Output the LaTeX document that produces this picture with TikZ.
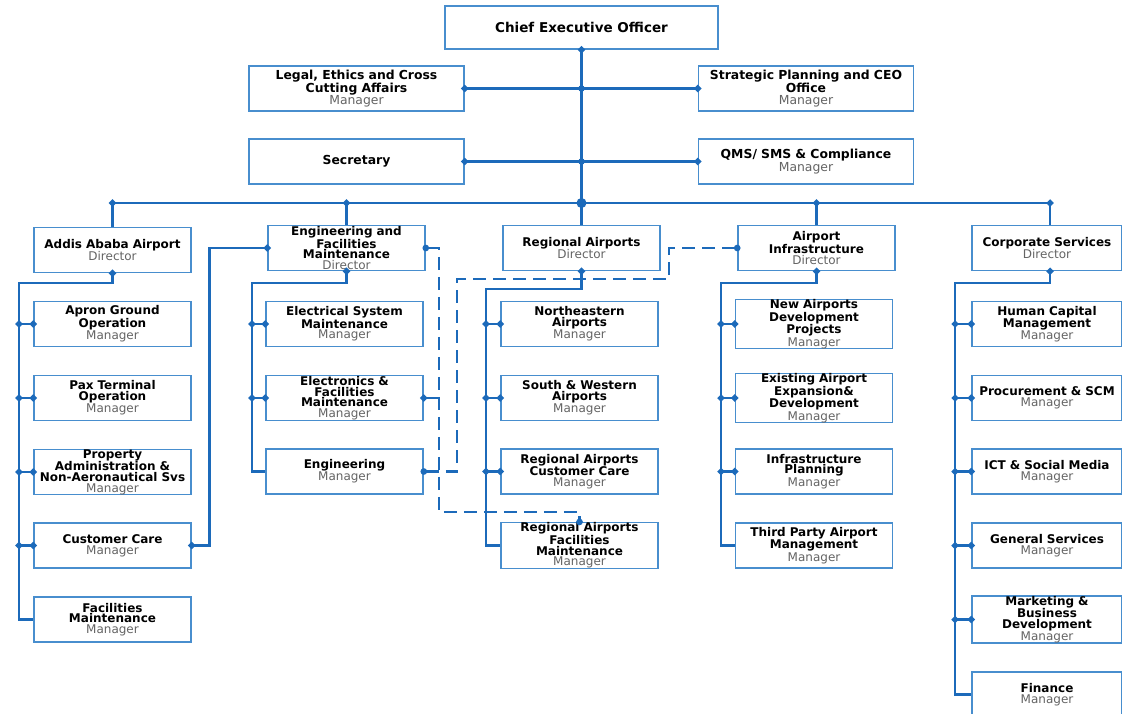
\documentclass[tikz,border=0pt]{standalone}
\usepackage{fontspec}
\setmainfont{DejaVu Sans}
\usetikzlibrary{arrows.meta}
\definecolor{lineblue}{RGB}{28,106,186}
\definecolor{boxblue}{RGB}{72,142,206}
\definecolor{rolegray}{RGB}{100,100,100}
\newcommand{\role}[1]{\\{\mdseries\color{rolegray}#1}}

\begin{document}
\begin{tikzpicture}[
    x=1pt, y=-1pt,
    jdot/.tip={Circle[length=6.5pt]},
    box/.style={draw=boxblue, line width=1.5pt, fill=white, align=center,
        inner sep=0pt, minimum height=45pt,
        font=\fontsize{12}{10.6}\selectfont\bfseries},
    unit/.style={box, minimum width=157pt, text width=155pt},
    cunit/.style={box, minimum width=150pt, text width=148pt},
    staff/.style={box, minimum width=215pt, text width=213pt},
    link/.style={lineblue, line width=2.7pt},
    branch/.style={link, {jdot}-{jdot}, shorten <=-3.2pt, shorten >=-3.2pt},
    drop/.style={link, {jdot}-, shorten <=-3.2pt},
    dashlink/.style={link, line width=2.5pt, dash pattern=on 13pt off 7pt}
]
    \useasboundingbox (0,0) rectangle (1122,714);

    % top of the chart
    \node[box, minimum width=273pt, minimum height=43pt,
        font=\fontsize{13.5}{14}\selectfont\bfseries] (ceo) at (581.5,27.5) {Chief Executive Officer};
    \node[staff, font=\fontsize{12.4}{11.4}\selectfont\bfseries] (legal) at (356.5,88.5) {Legal, Ethics and Cross\\Cutting Affairs\role{Manager}};
    \node[staff, font=\fontsize{12.4}{11.4}\selectfont\bfseries] (strat) at (806,88.5) {Strategic Planning and CEO\\Office\role{Manager}};
    \node[staff, font=\fontsize{12.4}{11.4}\selectfont\bfseries] (secr) at (356.5,161.5) {Secretary};
    \node[staff, font=\fontsize{12.4}{11.4}\selectfont\bfseries] (qms) at (806,161.5) {QMS/ SMS \& Compliance\role{Manager}};

    % directors
    \node[unit] (addis) at (112.5,250) {Addis Ababa Airport\role{Director}};
    \node[unit] (eng) at (346.5,248) {Engineering and\\Facilities\\Maintenance\role{Director}};
    \node[unit] (reg) at (581.5,248) {Regional Airports\role{Director}};
    \node[unit] (infra) at (816.5,248) {Airport\\Infrastructure\role{Director}};
    \node[cunit] (corp) at (1047,248) {Corporate Services\role{Director}};

    % Addis Ababa Airport
    \node[unit] (apron) at (112.5,324) {Apron Ground\\Operation\role{Manager}};
    \node[unit] (pax) at (112.5,398) {Pax Terminal\\Operation\role{Manager}};
    \node[unit] (prop) at (112.5,472) {Property\\Administration \&\\Non-Aeronautical Svs\role{Manager}};
    \node[unit] (care) at (112.5,545.5) {Customer Care\role{Manager}};
    \node[unit] (facm) at (112.5,619.5) {Facilities\\Maintenance\role{Manager}};

    % Engineering and Facilities Maintenance
    \node[unit] (elsys) at (344.5,324) {Electrical System\\Maintenance\role{Manager}};
    \node[unit] (elfac) at (344.5,398) {Electronics \&\\Facilities\\Maintenance\role{Manager}};
    \node[unit] (engmgr) at (344.5,471.5) {Engineering\role{Manager}};

    % Regional Airports
    \node[unit] (neast) at (579.5,324) {Northeastern\\Airports\role{Manager}};
    \node[unit] (swest) at (579.5,398) {South \& Western\\Airports\role{Manager}};
    \node[unit] (rcare) at (579.5,471.5) {Regional Airports\\Customer Care\role{Manager}};
    \node[unit] (rfac) at (579.5,545.5) {Regional Airports\\Facilities\\Maintenance\role{Manager}};

    % Airport Infrastructure
    \node[unit] (newap) at (814,324) {New Airports\\Development\\Projects\role{Manager}};
    \node[unit] (exist) at (814,398) {Existing Airport\\Expansion\&\\Development\role{Manager}};
    \node[unit] (plan) at (814,471.5) {Infrastructure\\Planning\role{Manager}};
    \node[unit] (third) at (814,545.5) {Third Party Airport\\Management\role{Manager}};

    % Corporate Services
    \node[cunit] (human) at (1047,324) {Human Capital\\Management\role{Manager}};
    \node[cunit] (procu) at (1047,398) {Procurement \& SCM\role{Manager}};
    \node[cunit] (ict) at (1047,471.5) {ICT \& Social Media\role{Manager}};
    \node[cunit] (gens) at (1047,545.5) {General Services\role{Manager}};
    \node[cunit] (mktg) at (1047,619.5) {Marketing \&\\Business\\Development\role{Manager}};
    \node[cunit] (fin) at (1047,694.5) {Finance\role{Manager}};

    \coordinate (bus) at (581.5,203);
    \coordinate (spA) at (19,283);
    \coordinate (spB) at (252,283);
    \coordinate (spC) at (486,289);
    \coordinate (spD) at (721,283);
    \coordinate (spE) at (955,283);
    \coordinate (dashA) at (439,512);
    \coordinate (dashB) at (457,279);
    \coordinate (dashC) at (669,279);

    % trunk and staff
    \draw[drop] (ceo.south) -- (bus);
    \draw[branch] (legal.east) -- (strat.west);
    \draw[branch] (secr.east) -- (qms.west);
    \fill[lineblue] (ceo.south |- legal.east) circle (3.3pt);
    \fill[lineblue] (ceo.south |- secr.east) circle (3.3pt);
    \draw[link] (addis.north |- bus) -- (corp.north |- bus);
    \fill[lineblue] (bus) circle (5pt);
    \draw[drop] (addis.north |- bus) -- (addis.north);
    \draw[drop] (eng.north |- bus) -- (eng.north);
    \draw[drop] (reg.north |- bus) -- (reg.north);
    \draw[drop] (infra.north |- bus) -- (infra.north);
    \draw[drop] ([xshift=3pt]corp.north |- bus) -- ([xshift=3pt]corp.north);

    % spines
    \draw[drop] (addis.south) |- (spA) |- (facm.west);
    \draw[branch] (spA |- apron.west) -- (apron.west);
    \draw[branch] (spA |- pax.west) -- (pax.west);
    \draw[branch] (spA |- prop.west) -- (prop.west);
    \draw[branch] (spA |- care.west) -- (care.west);
    \draw[branch] (care.east) -- ++(18,0) |- (eng.west);

    \draw[drop] (eng.south) |- (spB) |- (engmgr.west);
    \draw[branch] (spB |- elsys.west) -- (elsys.west);
    \draw[branch] (spB |- elfac.west) -- (elfac.west);

    \draw[drop] (reg.south) |- (spC) |- (rfac.west);
    \draw[branch] (spC |- neast.west) -- (neast.west);
    \draw[branch] (spC |- swest.west) -- (swest.west);
    \draw[branch] (spC |- rcare.west) -- (rcare.west);

    \draw[drop] (infra.south) |- (spD) |- (third.west);
    \draw[branch] (spD |- newap.west) -- (newap.west);
    \draw[branch] (spD |- exist.west) -- (exist.west);
    \draw[branch] (spD |- plan.west) -- (plan.west);

    \draw[drop] ([xshift=3pt]corp.south) |- (spE) |- (fin.west);
    \draw[branch] (spE |- human.west) -- (human.west);
    \draw[branch] (spE |- procu.west) -- (procu.west);
    \draw[branch] (spE |- ict.west) -- (ict.west);
    \draw[branch] (spE |- gens.west) -- (gens.west);
    \draw[branch] (spE |- mktg.west) -- (mktg.west);

    % dashed links
    \draw[dashlink, {jdot}-{jdot}, shorten <=-3.2pt, shorten >=-3.2pt]
        (eng.east) -| (dashA) -| (rfac.north);
    \draw[drop] (elfac.east) -- (dashA |- elfac.east);
    \draw[dashlink, {jdot}-{jdot}, shorten <=-3.2pt, shorten >=-3.2pt]
        (engmgr.east) -| (dashB) -- (dashC) |- (infra.west);
\end{tikzpicture}
\end{document}
